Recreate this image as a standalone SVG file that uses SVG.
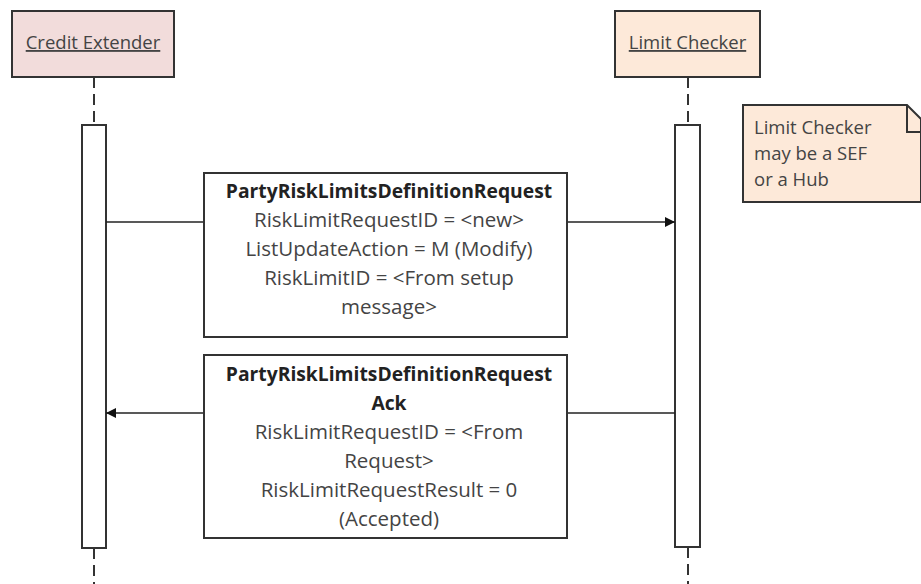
<svg xmlns="http://www.w3.org/2000/svg" width="921" height="584" viewBox="0 0 921 584">
  <style>
    .hdr { stroke: #333; stroke-width: 2; }
    .act { fill: #fff; stroke: #333; stroke-width: 2; }
    .life { stroke: #333; stroke-width: 2; stroke-dasharray: 11 6; fill: none; }
    .msgbox { fill: #fff; stroke: #333; stroke-width: 2; }
    .msg { stroke: #222; stroke-width: 1.6; fill: none; }
    text { font-family: "Open Sans", "Liberation Sans", sans-serif; font-size: 18.5px; fill: #444; }
    .t { text-anchor: middle; font-size: 20.5px; }
    .b { font-weight: bold; fill: #222; font-size: 19.3px; }
    .u { text-decoration: underline; font-size: 18.5px; }
  </style>
  <defs>
    <marker id="head" viewBox="0 0 10 10" refX="10" refY="5" markerWidth="10" markerHeight="10" markerUnits="userSpaceOnUse" orient="auto">
      <path d="M0,0 L10,5 L0,10 z" fill="#111"/>
    </marker>
  </defs>
  <rect width="921" height="584" fill="#fff"/>

  <!-- lifeline dashes -->
  <g id="lifelines">
    <line class="life" x1="94" y1="77" x2="94" y2="125"/>
    <line class="life" x1="94" y1="548" x2="94" y2="584"/>
    <line class="life" x1="688" y1="77" x2="688" y2="125"/>
    <line class="life" x1="688" y1="547" x2="688" y2="584"/>
  </g>

  <g id="credit-extender">
    <rect class="hdr" x="12" y="11" width="162" height="66" fill="#F2DCDB"/>
    <text class="t u" x="93" y="49">Credit Extender</text>
    <rect class="act" x="82" y="125" width="24" height="423"/>
  </g>

  <g id="limit-checker">
    <rect class="hdr" x="615" y="11" width="145" height="66" fill="#FDE9D9"/>
    <text class="t u" x="687.5" y="49">Limit Checker</text>
    <rect class="act" x="675" y="125" width="25" height="422"/>
  </g>

  <g id="note">
    <path d="M743,105 L907,105 L921,119 L921,202 L743,202 Z" fill="#FDE9D9" stroke="#333" stroke-width="2"/>
    <path d="M907,105 L907,132 L921,132" fill="none" stroke="#333" stroke-width="2"/>
    <text x="754" y="134">Limit Checker</text>
    <text x="754" y="160">may be a SEF</text>
    <text x="754" y="186">or a Hub</text>
  </g>

  <!-- message connectors -->
  <g id="connectors">
    <line class="msg" x1="106" y1="222" x2="204" y2="222"/>
    <line class="msg" x1="567" y1="222" x2="675" y2="222" marker-end="url(#head)"/>
    <line class="msg" x1="675" y1="413" x2="567" y2="413"/>
    <line class="msg" x1="204" y1="413" x2="106" y2="413" marker-end="url(#head)"/>
  </g>

  <g id="request">
    <rect class="msgbox" x="204" y="173" width="363" height="164"/>
    <text class="t b" x="389" y="198">PartyRiskLimitsDefinitionRequest</text>
    <text class="t" x="389" y="227">RiskLimitRequestID = &lt;new&gt;</text>
    <text class="t" x="389" y="256">ListUpdateAction = M (Modify)</text>
    <text class="t" x="389" y="285">RiskLimitID = &lt;From setup</text>
    <text class="t" x="389" y="314">message&gt;</text>
  </g>

  <g id="ack">
    <rect class="msgbox" x="204" y="355" width="363" height="183"/>
    <text class="t b" x="389" y="381">PartyRiskLimitsDefinitionRequest</text>
    <text class="t b" x="389" y="410">Ack</text>
    <text class="t" x="389" y="439">RiskLimitRequestID = &lt;From</text>
    <text class="t" x="389" y="468">Request&gt;</text>
    <text class="t" x="389" y="497">RiskLimitRequestResult = 0</text>
    <text class="t" x="389" y="526">(Accepted)</text>
  </g>
</svg>
